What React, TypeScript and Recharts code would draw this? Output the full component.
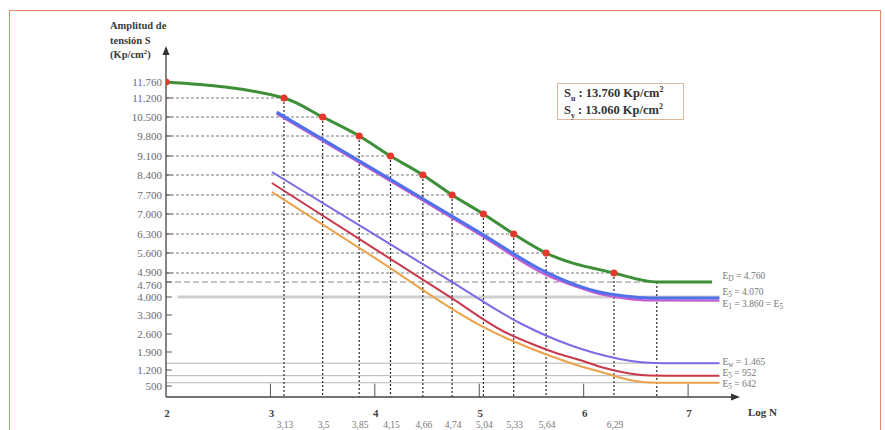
import React from 'react';
import { ComposedChart, Line, XAxis, YAxis, ReferenceLine, ReferenceDot, Scatter } from 'recharts';

const FONT = "'Liberation Serif', 'DejaVu Serif', 'Times New Roman', serif";

// ---------------- data ----------------
const yTicks = [500, 1200, 1900, 2600, 3300, 4000, 4760, 4900, 5600, 6300, 7000, 7700, 8400, 9100, 9800, 10500, 11200, 11760];
const xMainTicks = [2, 3, 4, 5, 6, 7];
const xSubTicks = [3.13, 3.5, 3.85, 4.15, 4.46, 4.74, 5.04, 5.33, 5.64, 6.29];
const xSubLabels = ['3,13', '3,5', '3,85', '4,15', '4,66', '4,74', '5,04', '5,33', '5,64', '6,29'];

const markLogN = [2, 3.13, 3.5, 3.85, 4.15, 4.46, 4.74, 5.04, 5.33, 5.64, 6.29];
const markS = [11760, 11200, 10500, 9800, 9100, 8400, 7700, 7000, 6300, 5600, 4900];
const kneeLogN = 6.7;
const endLogN = 7.3;
const limitD = 4760;

const greenLogN = [...markLogN, kneeLogN, 7.23];
const greenS = [...markS, limitD, limitD];

const blueLogN = [3.06, 4.0, 5.0, 5.64, 5.93, 6.15, 6.39, 6.63, 7.3];
const blueS = [10680, 8585, 6356, 4929, 4600, 4250, 4050, 3965, 3960];

const magentaLogN = [3.06, 4.0, 5.0, 5.64, 5.93, 6.15, 6.39, 6.63, 7.3];
const magentaS = [10620, 8520, 6290, 4870, 4520, 4150, 3950, 3870, 3860];

const purpleLogN = [3.014, 4.01, 4.718, 5.388, 5.627, 5.866, 6.105, 6.344, 6.584, 6.775, 7.3];
const purpleS = [8511, 6248, 4782, 3005, 2561, 2172, 1861, 1628, 1492, 1465, 1465];

const redLogN = [3.014, 4.01, 4.718, 5.244, 5.483, 5.722, 5.962, 6.201, 6.44, 6.632, 6.823, 7.3];
const redS = [8120, 5725, 4005, 2674, 2250, 1881, 1589, 1278, 1047, 959, 952, 952];

const orangeLogN = [3.014, 4.01, 5.005, 5.244, 5.483, 5.722, 5.962, 6.201, 6.44, 6.632, 6.823, 7.3];
const orangeS = [7805, 5404, 2928, 2464, 2056, 1686, 1356, 1069, 763, 653, 642, 642];

const grayLevels = [4000, 1465, 952, 642];

const rightLabelLevels = [4760, 3960, 3860, 1465, 952, 642];
const rightLabelParts: { t: string; sub?: boolean }[][] = [
  [{ t: 'E' }, { t: 'D', sub: true }, { t: ' = 4.760' }],
  [{ t: 'E' }, { t: '5', sub: true }, { t: ' = 4.070' }],
  [{ t: 'E' }, { t: '1', sub: true }, { t: ' = 3.860 = E' }, { t: '5', sub: true }],
  [{ t: 'E' }, { t: 'w', sub: true }, { t: ' = 1.465' }],
  [{ t: 'E' }, { t: '5', sub: true }, { t: ' = 952' }],
  [{ t: 'E' }, { t: '5', sub: true }, { t: ' = 642' }],
];
const rightLabelDy = [-3, -3, 6.5, 2, 0, 4];

// ------------- axis spacing of the original (non-uniform) -------------
const yDomain = [0, 12900];
const knotValues = [0, 500, 1200, 1900, 2600, 3300, 4000, 4760, 4900, 5600, 6300, 7000, 7700, 8400, 9100, 9800, 10500, 11200, 11760, 12900];
const knotSteps = [0, 11, 27, 45, 63, 82, 100, 115, 124, 144, 163, 183, 202, 222, 241, 261, 280, 299, 315, 345];

function piecewiseScale(kv: number[], ks: number[]) {
  const total = ks[ks.length - 1];
  const kt = ks.map((s) => s / total);
  const toT = (v: number) => {
    if (v <= kv[0]) return kt[0] + ((v - kv[0]) * (kt[1] - kt[0])) / (kv[1] - kv[0]);
    for (let i = 1; i < kv.length; i++) {
      if (v <= kv[i]) return kt[i - 1] + ((v - kv[i - 1]) * (kt[i] - kt[i - 1])) / (kv[i] - kv[i - 1]);
    }
    const n = kv.length - 1;
    return kt[n] + ((v - kv[n]) * (kt[n] - kt[n - 1])) / (kv[n] - kv[n - 1]);
  };
  const make = (dom: number[], rng: number[]): any => {
    const t0 = toT(dom[0]);
    const t1 = toT(dom[dom.length - 1]);
    const r0 = rng[0];
    const r1 = rng[rng.length - 1];
    const s: any = (v: any) => {
      const n = Number(v);
      if (v === null || v === undefined || !isFinite(n)) return NaN;
      const f = (toT(n) - t0) / (t1 - t0 || 1);
      return r0 + f * (r1 - r0);
    };
    s.domain = (d?: any) => (d === undefined ? dom.slice() : make(Array.from(d).map(Number), rng));
    s.range = (r?: any) => (r === undefined ? rng.slice() : make(dom, Array.from(r).map(Number)));
    s.copy = () => make(dom.slice(), rng.slice());
    s.ticks = () => kv.filter((v) => v >= Math.min(dom[0], dom[dom.length - 1]) && v <= Math.max(dom[0], dom[dom.length - 1]));
    s.tickFormat = () => (v: any) => String(v);
    s.invert = (px: number) => {
      const f = (px - r0) / (r1 - r0);
      const t = t0 + f * (t1 - t0);
      for (let i = 1; i < kt.length; i++) {
        if (t <= kt[i]) return kv[i - 1] + ((t - kt[i - 1]) * (kv[i] - kv[i - 1])) / (kt[i] - kt[i - 1]);
      }
      return kv[kv.length - 1];
    };
    s.clamp = () => s;
    s.nice = () => s;
    return s;
  };
  return make([kv[0], kv[kv.length - 1]], [0, 1]);
}
const yScale = piecewiseScale(knotValues, knotSteps);

// ---------------- helpers ----------------
const toPoints = (xs: number[], ys: number[]) => xs.map((x, i) => ({ x, y: ys[i] }));

const greenData = toPoints(greenLogN, greenS);
const blueData = toPoints(blueLogN, blueS);
const magentaData = toPoints(magentaLogN, magentaS);
const purpleData = toPoints(purpleLogN, purpleS);
const redData = toPoints(redLogN, redS);
const orangeData = toPoints(orangeLogN, orangeS);
const markData = toPoints(markLogN, markS);

const fmtThousands = (v: number) => {
  if (v < 1000) return String(v);
  const th = Math.floor(v / 1000);
  const rest = String(v % 1000).padStart(3, '0');
  return `${th}.${rest}`;
};

const YTick = (props: any) => {
  const { x, y, payload } = props;
  const v = payload.value;
  const shift = v === limitD ? 2.5 : v === 4900 ? -1 : 0;
  return (
    <text x={x} y={y + 4 + shift} textAnchor="end" fontFamily={FONT} fontSize={11} fill="#6a6a6a">
      {fmtThousands(v)}
    </text>
  );
};

const XTick = (props: any) => {
  const { x, y, payload } = props;
  const v = payload.value;
  const mi = xMainTicks.indexOf(v);
  if (mi >= 0) {
    return (
      <text x={x + 1} y={y + 20} textAnchor="middle" fontFamily={FONT} fontSize={11} fontWeight="bold" fill="#444">
        {String(v)}
      </text>
    );
  }
  const si = xSubTicks.indexOf(v);
  return (
    <text x={x + 1} y={y + 31} textAnchor="middle" fontFamily={FONT} fontSize={9.5} fill="#777">
      {si >= 0 ? xSubLabels[si] : ''}
    </text>
  );
};

const RedDot = (p: any) => <circle cx={p.cx} cy={p.cy} r={3.6} fill="#e2392c" />;

const RightLabel = (p: any) => {
  const i = p.idx ?? 0;
  const parts = rightLabelParts[i];
  return (
    <text x={p.cx + 3} y={p.cy + rightLabelDy[i]} fontFamily={FONT} fontSize={9.5} fill="#777">
      {parts.map((part, k) =>
        part.sub ? (
          <tspan key={k} fontSize={7.5} dy={2}>
            {part.t}
          </tspan>
        ) : (
          <tspan key={k} dy={k > 0 && parts[k - 1].sub ? -2 : 0}>
            {part.t}
          </tspan>
        )
      )}
    </text>
  );
};

const UpArrow = (p: any) => (
  <path d={`M${p.cx},${p.cy - 6} L${p.cx - 3.5},${p.cy + 3} L${p.cx + 3.5},${p.cy + 3} Z`} fill="#333" />
);
const RightArrow = (p: any) => (
  <path d={`M${p.cx + 7},${p.cy} L${p.cx - 2},${p.cy - 3.5} L${p.cx - 2},${p.cy + 3.5} Z`} fill="#333" />
);

const X_MAX = 7.43;
const SUP = { fontSize: 8, lineHeight: 0 } as const;

export default function App() {
  const allXTicks = [...xMainTicks, ...xSubTicks].sort((a, b) => a - b);
  return (
    <div style={{ position: 'absolute', left: 0, top: 0, width: 885, height: 430, background: '#fff', overflow: 'hidden' }}>
      <div
        style={{
          position: 'absolute',
          left: 9,
          top: 10,
          width: 870,
          height: 440,
          borderTop: '1.5px solid #e6876c',
          borderLeft: '1.5px solid #e6876c',
          borderRight: '1.5px solid #e6876c',
        }}
      />
      <div
        style={{
          position: 'absolute',
          left: 110,
          top: 19,
          fontFamily: FONT,
          fontWeight: 'bold',
          fontSize: 10.5,
          lineHeight: '14.5px',
          color: '#3a3a3a',
          whiteSpace: 'nowrap',
        }}
      >
        <div>Amplitud de</div>
        <div>tensión S</div>
        <div>
          (Kp/cm<sup style={{ fontSize: 7, lineHeight: 0 }}>2</sup>)
        </div>
      </div>
      <div
        style={{
          position: 'absolute',
          left: 748,
          top: 406,
          fontFamily: FONT,
          fontWeight: 'bold',
          fontSize: 11,
          color: '#3a3a3a',
          whiteSpace: 'nowrap',
        }}
      >
        Log N
      </div>
      <div
        style={{
          position: 'absolute',
          left: 557,
          top: 83,
          width: 127,
          height: 37,
          border: '1px solid #dcb79c',
          fontFamily: FONT,
          fontWeight: 'bold',
          fontSize: 12.5,
          lineHeight: '17px',
          color: '#333',
          paddingLeft: 6,
          boxSizing: 'border-box',
          paddingTop: 1,
          whiteSpace: 'nowrap',
        }}
      >
        <div>
          S<sub style={SUP}>u</sub> : 13.760 Kp/cm<sup style={SUP}>2</sup>
        </div>
        <div>
          S<sub style={SUP}>y</sub> : 13.060 Kp/cm<sup style={SUP}>2</sup>
        </div>
      </div>
      <div style={{ position: 'absolute', left: 0, top: 0 }}>
        <ComposedChart width={885} height={430} margin={{ top: 52, right: 152, bottom: 0, left: 0 }}>
          <XAxis
            type="number"
            dataKey="x"
            domain={[2, X_MAX]}
            ticks={allXTicks}
            interval={0}
            tick={<XTick />}
            tickLine={false}
            tickSize={0}
            tickMargin={0}
            height={33}
            axisLine={{ stroke: '#444', strokeWidth: 1.3 }}
            allowDataOverflow
          />
          <YAxis
            type="number"
            dataKey="y"
            domain={yDomain}
            scale={yScale}
            ticks={yTicks}
            interval={0}
            tick={<YTick />}
            tickLine={false}
            tickSize={0}
            tickMargin={4}
            width={166}
            axisLine={{ stroke: '#444', strokeWidth: 1.3 }}
            allowDataOverflow
          />

          {grayLevels.map((lv, i) => (
            <ReferenceLine
              key={`g${i}`}
              segment={[{ x: i === 0 ? 2.11 : 2, y: lv }, { x: endLogN, y: lv }]}
              stroke={i === 0 ? '#cfcfcf' : '#b4b4b4'}
              strokeWidth={i === 0 ? 3 : 1}
              ifOverflow="visible"
            />
          ))}

          {markLogN.slice(1).map((ln, i) => (
            <ReferenceLine
              key={`h${i}`}
              segment={[{ x: 2, y: markS[i + 1] }, { x: ln, y: markS[i + 1] }]}
              stroke="#7a7a7a"
              strokeDasharray="3 2"
              strokeWidth={1}
              ifOverflow="visible"
            />
          ))}
          <ReferenceLine
            segment={[{ x: 2, y: limitD }, { x: kneeLogN, y: limitD }]}
            stroke="#8a8a8a"
            strokeDasharray="6 3"
            strokeWidth={1}
            ifOverflow="visible"
          />

          {markLogN.slice(1).map((ln, i) => (
            <ReferenceLine
              key={`v${i}`}
              segment={[{ x: ln, y: markS[i + 1] }, { x: ln, y: yDomain[0] }]}
              stroke="#2a2a2a"
              strokeDasharray="2 2"
              strokeWidth={1.2}
              ifOverflow="visible"
            />
          ))}
          <ReferenceLine
            segment={[{ x: kneeLogN, y: limitD }, { x: kneeLogN, y: yDomain[0] }]}
            stroke="#2a2a2a"
            strokeDasharray="2 2"
            strokeWidth={1.2}
            ifOverflow="visible"
          />

          {yTicks.map((t, i) => (
            <ReferenceLine
              key={`yt${i}`}
              segment={[{ x: 2, y: t }, { x: 2.055, y: t }]}
              stroke="#555"
              strokeWidth={1}
              ifOverflow="visible"
            />
          ))}
          {xMainTicks.slice(1).map((t, i) => (
            <ReferenceLine
              key={`xt${i}`}
              segment={[{ x: t, y: yDomain[0] }, { x: t, y: 600 }]}
              stroke="#555"
              strokeWidth={1}
              ifOverflow="visible"
            />
          ))}

          <Line data={orangeData} dataKey="y" type="monotone" stroke="#eba24a" strokeWidth={2} dot={false} isAnimationActive={false} />
          <Line data={redData} dataKey="y" type="monotone" stroke="#c8394c" strokeWidth={2} dot={false} isAnimationActive={false} />
          <Line data={purpleData} dataKey="y" type="monotone" stroke="#7b6be6" strokeWidth={2} dot={false} isAnimationActive={false} />
          <Line data={magentaData} dataKey="y" type="monotone" stroke="#c65ad2" strokeWidth={2.2} dot={false} isAnimationActive={false} />
          <Line data={blueData} dataKey="y" type="monotone" stroke="#4f72e8" strokeWidth={3} dot={false} isAnimationActive={false} />
          <Line data={greenData} dataKey="y" type="monotone" stroke="#3d8f38" strokeWidth={3} dot={false} isAnimationActive={false} />

          <Scatter data={markData} shape={<RedDot />} isAnimationActive={false} />

          {rightLabelLevels.map((lv, i) => (
            <ReferenceDot key={`rl${i}`} x={endLogN} y={lv} r={0} ifOverflow="visible" shape={<RightLabel idx={i} />} />
          ))}

          <ReferenceDot x={2} y={yDomain[1]} r={0} ifOverflow="visible" shape={<UpArrow />} />
          <ReferenceDot x={X_MAX} y={yDomain[0]} r={0} ifOverflow="visible" shape={<RightArrow />} />
        </ComposedChart>
      </div>
    </div>
  );
}
